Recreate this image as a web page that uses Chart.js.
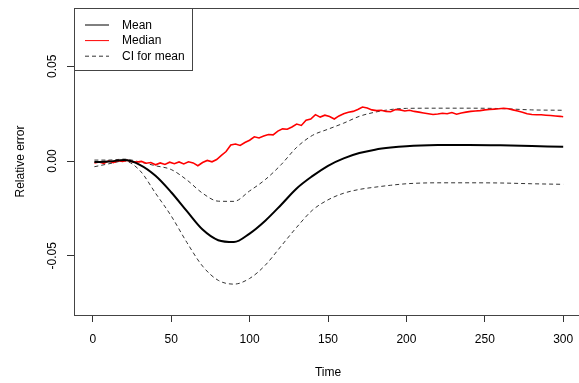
<!DOCTYPE html>
<html>
<head>
<meta charset="utf-8">
<script src="https://cdn.jsdelivr.net/npm/chart.js@4/dist/chart.umd.min.js"></script>
<style>
  html, body { margin: 0; padding: 0; overflow: hidden; background: #fff; }
  #wrap { width: 600px; height: 383px; position: relative; }
</style>
</head>
<body>
<div id="wrap"><canvas id="errChart"></canvas></div>
<script>
// smooth series (mean and its CI), read at these times
const smoothTime = [1, 10, 20, 30, 40, 50, 60, 70, 80, 90, 100, 110, 120, 130, 140, 150, 160, 170, 180, 190, 200, 220, 240, 260, 280, 300];
const meanValues = [-0.0005, -0.0003, 0.0005, -0.0020, -0.0078, -0.0165, -0.0265, -0.0362, -0.0418, -0.0428, -0.0383, -0.0315, -0.0232, -0.0145, -0.0080, -0.0025, 0.0014, 0.0042, 0.0060, 0.0071, 0.0078, 0.0084, 0.0085, 0.0083, 0.0079, 0.0075];
const ciLower = [-0.0030, -0.0015, 0.0000, -0.0050, -0.0170, -0.0290, -0.0430, -0.0555, -0.0630, -0.0650, -0.0620, -0.0550, -0.0450, -0.0350, -0.0260, -0.0205, -0.0170, -0.0150, -0.0138, -0.0128, -0.0120, -0.0115, -0.0115, -0.0116, -0.0120, -0.0123];
const ciUpper = [0.0005, 0.0005, 0.0010, -0.0005, -0.0025, -0.0045, -0.0100, -0.0170, -0.0212, -0.0213, -0.0158, -0.0098, -0.0020, 0.0072, 0.0135, 0.0168, 0.0200, 0.0236, 0.0258, 0.0272, 0.0278, 0.0279, 0.0279, 0.0277, 0.0270, 0.0268];

// median is noisy, read every 3 time steps
const medianTime = [1, 4, 7, 10, 13, 16, 19, 22, 25, 28, 31, 34, 37, 40, 43, 46, 49, 52, 55, 58, 61, 64, 67, 70, 73, 76, 79, 82, 85, 88, 91, 94, 97, 100, 103, 106, 109, 112, 115, 118, 121, 124, 127, 130, 133, 136, 139, 142, 145, 148, 151, 154, 157, 160, 163, 166, 169, 172, 175, 178, 181, 184, 187, 190, 193, 196, 199, 202, 205, 208, 211, 214, 217, 220, 223, 226, 229, 232, 235, 238, 241, 244, 247, 250, 253, 256, 259, 262, 265, 268, 271, 274, 277, 280, 283, 286, 289, 292, 295, 298, 300];
const medianValues = [-0.0010, -0.0005, -0.0012, 0.0000, -0.0008, 0.0002, -0.0002, 0.0004, -0.0003, -0.0006, -0.0002, -0.0012, -0.0008, -0.0020, -0.0010, -0.0018, -0.0006, -0.0014, -0.0005, -0.0015, -0.0004, -0.0010, -0.0025, -0.0008, 0.0003, -0.0004, 0.0008, 0.0030, 0.0050, 0.0085, 0.0090, 0.0082, 0.0098, 0.0110, 0.0128, 0.0122, 0.0132, 0.0140, 0.0138, 0.0158, 0.0170, 0.0168, 0.0180, 0.0195, 0.0188, 0.0215, 0.0222, 0.0245, 0.0232, 0.0242, 0.0235, 0.0222, 0.0238, 0.0250, 0.0258, 0.0262, 0.0272, 0.0285, 0.0280, 0.0270, 0.0266, 0.0268, 0.0262, 0.0260, 0.0272, 0.0270, 0.0264, 0.0268, 0.0262, 0.0258, 0.0254, 0.0250, 0.0246, 0.0248, 0.0252, 0.0250, 0.0256, 0.0247, 0.0254, 0.0258, 0.0262, 0.0264, 0.0266, 0.0270, 0.0272, 0.0274, 0.0276, 0.0279, 0.0276, 0.0270, 0.0264, 0.0258, 0.0250, 0.0246, 0.0244, 0.0244, 0.0242, 0.0240, 0.0238, 0.0236, 0.0234];

const xTicks = [0, 50, 100, 150, 200, 250, 300];
const yTicks = [-0.05, 0, 0.05];
const yTickLabels = ['-0.05', '0.00', '0.05'];

const legendLabels = ['Mean', 'Median', 'CI for mean'];
const legendColors = ['#000000', '#ff0000', '#333333'];
const legendDashes = [[], [], [4, 3]];

const FONT = 'Arial, "Liberation Sans", sans-serif';

function toPoints(xs, ys) {
  return xs.map((x, i) => ({ x: x, y: ys[i] }));
}

// box round the plot area, y tick labels and the legend, R style
const rBoxPlugin = {
  id: 'rBox',
  afterDraw(chart) {
    const c = chart.ctx;
    const a = chart.chartArea;
    const yScale = chart.scales.y;
    c.save();
    c.strokeStyle = '#444';
    c.lineWidth = 1;
    c.strokeRect(a.left + 0.5, a.top + 0.5, a.right - a.left, a.bottom - a.top);

    // rotated y tick labels
    c.fillStyle = '#000';
    c.font = '12px ' + FONT;
    c.textAlign = 'center';
    c.textBaseline = 'middle';
    yTicks.forEach((v, i) => {
      const py = yScale.getPixelForValue(v);
      c.save();
      c.translate(53, py);
      c.rotate(-Math.PI / 2);
      c.fillText(yTickLabels[i], 0, 0);
      c.restore();
    });

    // legend
    c.strokeStyle = '#444';
    c.setLineDash([]);
    c.strokeRect(a.left + 0.5, a.top + 0.5, 118, 62);
    legendLabels.forEach((label, i) => {
      const ly = a.top + 17 + i * 15.6;
      c.beginPath();
      c.strokeStyle = legendColors[i];
      c.lineWidth = 1;
      c.setLineDash(legendDashes[i]);
      c.moveTo(a.left + 11, ly);
      c.lineTo(a.left + 35, ly);
      c.stroke();
      c.setLineDash([]);
      c.fillStyle = '#000';
      c.textAlign = 'left';
      c.fillText(label, a.left + 48, ly + 0.5);
    });
    c.restore();
  }
};

new Chart(document.getElementById('errChart'), {
  type: 'line',
  data: {
    datasets: [
      {
        label: 'Mean',
        data: toPoints(smoothTime, meanValues),
        borderColor: legendColors[0],
        borderWidth: 2,
        cubicInterpolationMode: 'monotone',
        pointRadius: 0
      },
      {
        label: 'Median',
        data: toPoints(medianTime, medianValues),
        borderColor: legendColors[1],
        borderWidth: 1.6,
        tension: 0,
        pointRadius: 0
      },
      {
        label: 'CI for mean',
        data: toPoints(smoothTime, ciUpper),
        borderColor: legendColors[2],
        borderWidth: 1,
        borderDash: legendDashes[2],
        cubicInterpolationMode: 'monotone',
        pointRadius: 0
      },
      {
        label: 'CI lower',
        data: toPoints(smoothTime, ciLower),
        borderColor: legendColors[2],
        borderWidth: 1,
        borderDash: legendDashes[2],
        cubicInterpolationMode: 'monotone',
        pointRadius: 0
      }
    ]
  },
  options: {
    responsive: true,
    maintainAspectRatio: false,
    animation: false,
    layout: { padding: { top: 8, right: 18, bottom: 0, left: 0 } },
    plugins: {
      legend: { display: false },
      tooltip: { enabled: false }
    },
    scales: {
      x: {
        type: 'linear',
        min: -12,
        max: 312,
        afterBuildTicks: (scale) => { scale.ticks = xTicks.map(v => ({ value: v })); },
        afterFit: (scale) => { scale.height = 68; },
        grid: { drawOnChartArea: false, drawTicks: true, tickLength: 7, color: '#333' },
        border: { display: true, color: '#444' },
        ticks: {
          color: '#000',
          font: { family: FONT, size: 12 },
          padding: 10,
          maxRotation: 0,
          autoSkip: false
        },
        title: {
          display: true,
          text: 'Time',
          color: '#000',
          font: { family: FONT, size: 12 },
          padding: { top: 0, bottom: 3 }
        }
      },
      y: {
        type: 'linear',
        min: -0.0813,
        max: 0.0808,
        afterBuildTicks: (scale) => { scale.ticks = yTicks.map(v => ({ value: v })); },
        afterFit: (scale) => { scale.width = 74; },
        grid: { drawOnChartArea: false, drawTicks: true, tickLength: 7, color: '#333' },
        border: { display: true, color: '#444' },
        ticks: { display: false },
        title: {
          display: true,
          text: 'Relative error',
          color: '#000',
          font: { family: FONT, size: 12 },
          padding: { top: 13, bottom: 0 }
        }
      }
    }
  },
  plugins: [rBoxPlugin]
});
</script>
</body>
</html>
